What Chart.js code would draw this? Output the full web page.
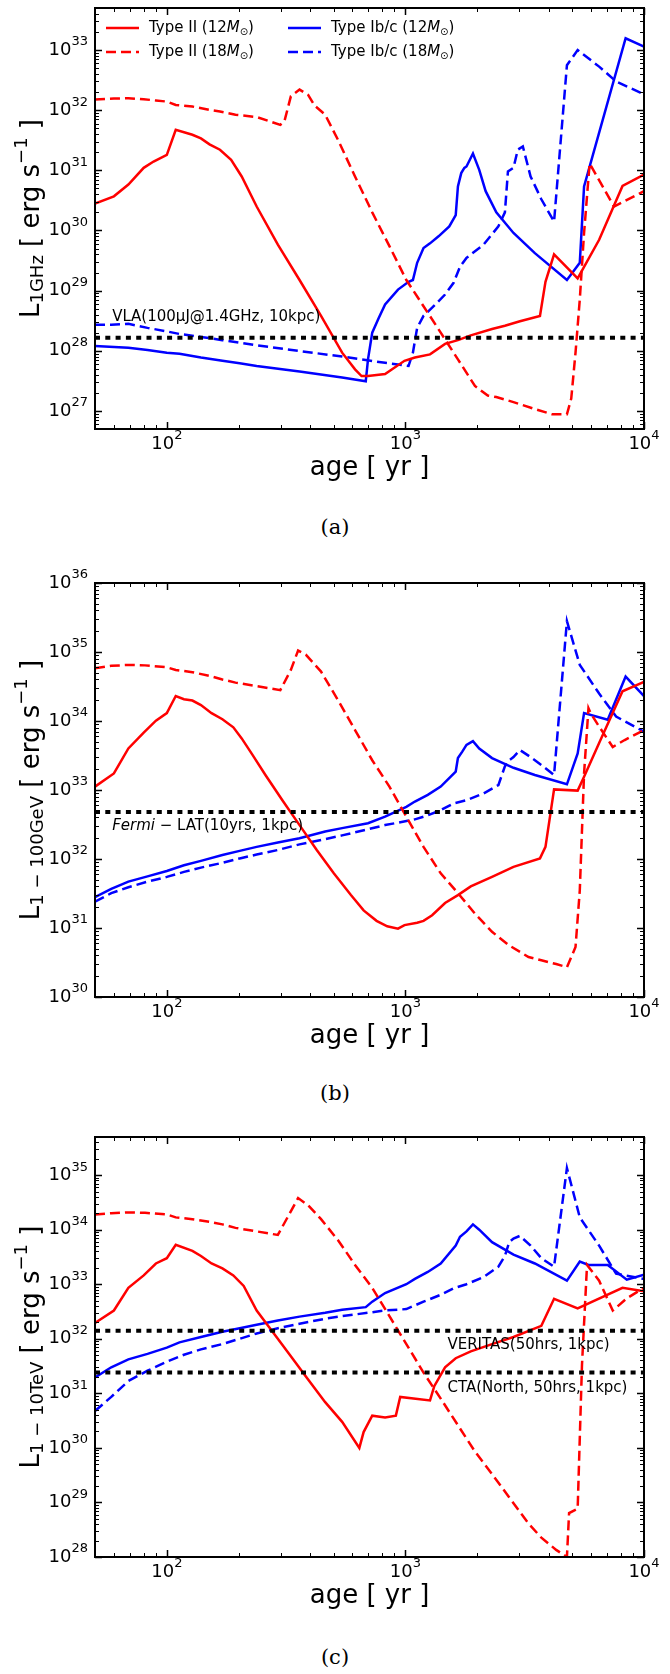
<!DOCTYPE html>
<html>
<head>
<meta charset="utf-8">
<script src="https://cdn.jsdelivr.net/npm/chart.js@4.4.0/dist/chart.umd.min.js"></script>
<style>
    html, body { margin: 0; padding: 0; background: #fff; }
    #page { position: relative; width: 670px; height: 1674px; overflow: hidden; }
    canvas { position: absolute; left: 0; }
    .cap { position: absolute; left: 0; width: 670px; text-align: center;
           font-family: "DejaVu Serif", serif; font-size: 21px; line-height: 24px; }
</style>
</head>
<body>
<div id="page">
    <canvas id="pa" width="670" height="515" style="top:-16px"></canvas>
    <div class="cap" style="top:515px">(a)</div>
    <canvas id="pb" width="670" height="508" style="top:559px"></canvas>
    <div class="cap" style="top:1081px">(b)</div>
    <canvas id="pc" width="670" height="514" style="top:1113px"></canvas>
    <div class="cap" style="top:1645px">(c)</div>
</div>
<script>
var AGE_MIN = 50, AGE_MAX = 1e4;
var xDecades = [2, 3, 4];

// (a) 1 GHz
var yDecadesA = [27, 28, 29, 30, 31, 32, 33];
var ageA_II12 = [50, 60, 69, 80, 88, 100, 109, 128, 139, 151, 167, 186, 206, 238, 292, 360, 443, 543, 615, 655, 697, 822, 991, 1096, 1268, 1466, 1660, 1879, 2307, 2612, 3020, 3664, 3864, 4198, 5272, 6486, 8128, 10000];
var lumA_II12 = [2.8e30, 3.7e30, 5.8e30, 1.1e31, 1.4e31, 1.8e31, 4.7e31, 3.9e31, 3.4e31, 2.7e31, 2.2e31, 1.5e31, 7.9e30, 2.5e30, 5.8e29, 1.5e29, 3.8e28, 9.3e27, 4.9e27, 3.8e27, 3.8e27, 4.1e27, 6.8e27, 7.7e27, 8.7e27, 1.3e28, 1.5e28, 1.8e28, 2.3e28, 2.6e28, 3.1e28, 3.8e28, 1.4e29, 4.0e29, 1.6e29, 7.0e29, 5.5e30, 8.5e30];
var ageA_II18 = [50, 60, 69, 80, 90, 100, 109, 128, 151, 167, 194, 238, 299, 311, 331, 360, 391, 416, 461, 522, 615, 726, 857, 1009, 1191, 1406, 1660, 1956, 2214, 2404, 2838, 3488, 4115, 4753, 4955, 5164, 5381, 5608, 5918, 7485, 10000];
var lumA_II18 = [1.5e32, 1.56e32, 1.58e32, 1.52e32, 1.45e32, 1.39e32, 1.22e32, 1.15e32, 1.01e32, 9.5e31, 8.4e31, 7.7e31, 5.7e31, 6.5e31, 1.7e32, 2.2e32, 1.8e32, 1.2e32, 8.4e31, 3.2e31, 7.9e30, 2.0e30, 5.5e29, 1.5e29, 5.5e28, 2.0e28, 7.2e27, 2.6e27, 1.8e27, 1.7e27, 1.4e27, 1.07e27, 8.8e26, 8.8e26, 1.6e27, 9.3e27, 7.1e28, 9.1e29, 1.3e31, 2.5e30, 4.5e30];
var ageA_Ib12 = [50, 69, 83, 100, 113, 139, 171, 202, 238, 360, 543, 682, 697, 726, 773, 822, 931, 1031, 1075, 1120, 1191, 1268, 1377, 1527, 1625, 1660, 1714, 1766, 1803, 1919, 2039, 2169, 2404, 2838, 3488, 4753, 5381, 5608, 8375, 10000];
var lumA_Ib12 = [1.2e28, 1.12e28, 1.03e28, 9.3e27, 8.9e27, 7.7e27, 6.8e27, 6.2e27, 5.6e27, 4.5e27, 3.6e27, 3.1e27, 7.2e27, 2.0e28, 3.5e28, 5.9e28, 1.04e29, 1.4e29, 1.5e29, 2.9e29, 5.1e29, 6.1e29, 8.0e29, 1.17e30, 1.8e30, 5.4e30, 9.0e30, 1.1e31, 1.16e31, 1.9e31, 1.02e31, 4.5e30, 2.0e30, 9.1e29, 4.2e29, 1.5e29, 2.9e29, 5.4e30, 1.57e33, 1.14e33];
var ageA_Ib18 = [50, 58.5, 69, 83, 100, 113, 139, 171, 202, 238, 360, 543, 682, 822, 1031, 1075, 1120, 1191, 1294, 1466, 1592, 1694, 1803, 2124, 2453, 2612, 2690, 2838, 2958, 3106, 3347, 3713, 4198, 4753, 5272, 6486, 7640, 10000];
var lumA_Ib18 = [2.7e28, 2.7e28, 2.8e28, 2.4e28, 2.1e28, 1.9e28, 1.7e28, 1.5e28, 1.36e28, 1.23e28, 9.9e27, 8.0e27, 7.0e27, 6.3e27, 5.6e27, 9.3e27, 2.4e28, 3.8e28, 5.2e28, 8.6e28, 1.35e29, 2.5e29, 3.5e29, 5.8e29, 1.17e30, 2.0e30, 9.6e30, 1.1e31, 2.2e31, 2.5e31, 7.9e30, 3.3e30, 1.4e30, 5.6e32, 1.0e33, 5.3e32, 3.0e32, 1.84e32];
var vlaLimit = 1.65e28;

// (b) 1-100 GeV
var yDecadesB = [30, 31, 32, 33, 34, 35, 36];
var ageB_II12 = [50, 60, 69, 80, 90, 100, 109, 118, 128, 139, 154, 171, 190, 206, 229, 259, 305, 360, 425, 501, 591, 668, 757, 839, 931, 991, 1120, 1191, 1294, 1466, 1660, 1879, 2307, 2838, 3664, 3864, 4198, 5272, 5608, 6486, 8128, 10000];
var lumB_II12 = [1.12e33, 1.74e33, 4.0e33, 6.8e33, 1.01e34, 1.3e34, 2.3e34, 2.07e34, 1.98e34, 1.7e34, 1.3e34, 1.06e34, 8.1e33, 5.6e33, 3.2e33, 1.65e33, 7.1e32, 3.1e32, 1.35e32, 6.2e31, 3.0e31, 1.8e31, 1.27e31, 1.06e31, 9.8e30, 1.1e31, 1.19e31, 1.27e31, 1.53e31, 2.3e31, 3.0e31, 4.0e31, 5.5e31, 7.7e31, 1.02e32, 1.5e32, 1.02e33, 9.8e32, 1.56e33, 4.8e33, 2.7e34, 3.7e34];
var ageB_II18 = [50, 58.5, 69, 81, 100, 109, 128, 151, 171, 194, 238, 299, 331, 355, 383, 443, 522, 615, 726, 857, 1009, 1191, 1406, 1660, 1956, 2307, 2720, 3281, 3713, 4285, 4753, 5164, 5381, 5608, 5851, 5971, 6486, 7396, 8299, 10000];
var lumB_II18 = [5.8e34, 6.3e34, 6.5e34, 6.4e34, 6.0e34, 5.5e34, 5.1e34, 4.5e34, 4.0e34, 3.6e34, 3.2e34, 2.8e34, 5.5e34, 1.05e35, 9.1e34, 5.2e34, 2.0e34, 7.4e33, 2.7e33, 1.12e33, 4.1e32, 1.5e32, 6.2e31, 3.2e31, 1.62e31, 8.8e30, 5.6e30, 3.8e30, 3.4e30, 3.0e30, 2.7e30, 5.3e30, 3.5e31, 1.74e33, 1.53e34, 1.3e34, 8.3e33, 4.2e33, 5.3e33, 7.4e33];
var ageB_Ib12 = [50, 58.5, 69, 83, 100, 118, 139, 171, 202, 238, 292, 360, 461, 543, 697, 822, 1009, 1096, 1241, 1406, 1625, 1660, 1731, 1803, 1919, 2039, 2307, 2838, 3488, 4753, 5272, 5608, 7047, 8375, 10000];
var lumB_Ib12 = [2.8e31, 3.7e31, 4.7e31, 5.6e31, 6.7e31, 8.1e31, 9.4e31, 1.14e32, 1.31e32, 1.5e32, 1.74e32, 2.0e32, 2.5e32, 2.8e32, 3.3e32, 4.1e32, 5.7e32, 6.8e32, 8.5e32, 1.12e33, 1.85e33, 2.9e33, 3.6e33, 4.5e33, 5.1e33, 4.0e33, 2.9e33, 2.1e33, 1.65e33, 1.21e33, 3.4e33, 1.3e34, 1.04e34, 4.4e34, 2.3e34];
var ageB_Ib18 = [50, 58.5, 69, 83, 100, 118, 139, 171, 202, 238, 292, 360, 461, 543, 697, 822, 1096, 1241, 1406, 1592, 1803, 2124, 2453, 2612, 2723, 2838, 3020, 3347, 3713, 4198, 4753, 5381, 6486, 7640, 10000];
var lumB_Ib18 = [2.4e31, 3.2e31, 3.9e31, 4.7e31, 5.5e31, 6.5e31, 7.5e31, 8.8e31, 1.02e32, 1.16e32, 1.35e32, 1.63e32, 1.94e32, 2.2e32, 2.7e32, 3.1e32, 3.75e32, 4.3e32, 5.1e32, 6.4e32, 7.1e32, 8.9e32, 1.18e33, 2.2e33, 2.7e33, 3.0e33, 3.8e33, 3.0e33, 2.3e33, 1.65e33, 2.8e35, 6.5e34, 2.5e34, 1.16e34, 7.0e33];
var fermiLimit = 4.8e32;

// (c) 1-10 TeV
var yDecadesC = [28, 29, 30, 31, 32, 33, 34, 35];
var ageC_II12 = [50, 60, 69, 80, 90, 100, 109, 128, 139, 154, 171, 190, 210, 238, 281, 331, 391, 461, 543, 641, 668, 726, 822, 912, 951, 1268, 1321, 1466, 1625, 1879, 2307, 2838, 3713, 4198, 5272, 8128, 10000];
var lumC_II12 = [1.95e32, 3.3e32, 8.6e32, 1.45e33, 2.4e33, 3.0e33, 5.3e33, 4.1e33, 3.3e33, 2.4e33, 1.95e33, 1.45e33, 9.3e32, 3.3e32, 1.25e32, 4.8e31, 1.8e31, 6.9e30, 3.0e30, 1.0e30, 1.95e30, 3.9e30, 3.6e30, 3.9e30, 8.6e30, 7.4e30, 1.35e31, 3.0e31, 4.4e31, 5.9e31, 8.0e31, 1.08e32, 1.73e32, 5.4e32, 3.6e32, 8.6e32, 7.4e32];
var ageC_II18 = [50, 58.5, 69, 81, 100, 109, 128, 151, 171, 194, 238, 292, 355, 391, 443, 522, 615, 726, 857, 1009, 1191, 1406, 1660, 1956, 2307, 2720, 3281, 3713, 4285, 4753, 4853, 5272, 5496, 5771, 6486, 7396, 8469, 10000];
var lumC_II18 = [1.9e34, 2.0e34, 2.07e34, 2.04e34, 1.9e34, 1.68e34, 1.56e34, 1.39e34, 1.25e34, 1.08e34, 9.3e33, 8.0e33, 3.8e34, 2.8e34, 1.56e34, 6.4e33, 2.26e33, 8.6e32, 2.6e32, 8.0e31, 2.4e31, 8.0e30, 2.6e30, 8.6e29, 3.3e29, 1.25e29, 4.1e28, 2.26e28, 1.35e28, 1.0e28, 6.4e28, 7.7e28, 3.3e31, 2.26e33, 1.16e33, 3.3e32, 5.5e32, 8.6e32];
var ageC_Ib12 = [50, 58.5, 69, 83, 100, 113, 139, 171, 202, 238, 292, 360, 461, 543, 682, 726, 822, 1009, 1096, 1241, 1406, 1625, 1694, 1803, 1919, 2039, 2307, 2838, 3488, 4753, 5381, 5851, 7047, 8469, 10000];
var lumC_Ib12 = [1.95e31, 3.0e31, 4.2e31, 5.3e31, 6.9e31, 8.6e31, 1.08e32, 1.35e32, 1.56e32, 1.81e32, 2.16e32, 2.55e32, 3.0e32, 3.4e32, 3.8e32, 4.8e32, 6.9e32, 1.0e33, 1.25e33, 1.68e33, 2.4e33, 5.1e33, 7.4e33, 9.3e33, 1.25e34, 1.0e34, 5.9e33, 3.5e33, 2.4e33, 1.16e33, 2.6e33, 2.26e33, 2.26e33, 1.21e33, 1.49e33];
var ageC_Ib18 = [50, 58.5, 69, 83, 100, 118, 139, 171, 202, 238, 292, 360, 461, 543, 697, 822, 1009, 1191, 1406, 1592, 1803, 2124, 2453, 2612, 2723, 2838, 3020, 3347, 3713, 4198, 4753, 5381, 6486, 7640, 10000];
var lumC_Ib18 = [4.75e30, 8.6e30, 1.68e31, 2.6e31, 3.8e31, 5.1e31, 6.4e31, 8.0e31, 1.0e32, 1.25e32, 1.56e32, 1.89e32, 2.33e32, 2.6e32, 3.0e32, 3.3e32, 3.5e32, 4.8e32, 6.4e32, 8.4e32, 1.0e33, 1.35e33, 2.1e33, 3.3e33, 5.9e33, 6.9e33, 7.7e33, 5.1e33, 3.0e33, 2.1e33, 1.35e35, 1.68e34, 5.1e33, 1.56e33, 1.25e33];
var veritasLimit = 1.4e32;
var ctaLimit = 2.4e31;

var RED = "#ff0000", BLUE = "#0000ff";
var FONT = '"DejaVu Sans", sans-serif';

function pts(ages, lums) {
    return ages.map(function (a, i) { return { x: a, y: lums[i] }; });
}

function curve(ages, lums, color, dashed) {
    return {
        data: pts(ages, lums), borderColor: color, borderWidth: 2.5,
        borderDash: dashed ? [10, 5] : [], pointRadius: 0, tension: 0
    };
}

function limitLine(v) {
    return {
        data: [{ x: AGE_MIN, y: v }, { x: AGE_MAX, y: v }], borderColor: "#000",
        borderWidth: 4, borderDash: [5, 5.3], borderCapStyle: "butt", pointRadius: 0
    };
}

// parts: [text, size, dy, italic]
function partsWidth(ctx, parts) {
    var w = 0;
    parts.forEach(function (p) {
        ctx.font = (p[3] ? "italic " : "") + p[1] + "px " + FONT;
        w += ctx.measureText(p[0]).width;
    });
    return w;
}

function drawParts(ctx, parts, x, y) {
    var cx = x;
    parts.forEach(function (p) {
        ctx.font = (p[3] ? "italic " : "") + p[1] + "px " + FONT;
        ctx.fillText(p[0], cx, y + (p[2] || 0));
        cx += ctx.measureText(p[0]).width;
    });
}

function pow10(k) {
    return [["10", 18, 0], [String(k), 13, -8]];
}

function logTicks(min, max) {
    var out = [];
    for (var k = Math.floor(Math.log10(min)); k <= Math.ceil(Math.log10(max)); k++) {
        for (var m = 1; m <= 9; m++) {
            var v = m * Math.pow(10, k);
            if (v >= min * 0.9999 && v <= max * 1.0001) out.push([v, m === 1]);
        }
    }
    return out;
}

function axesPlugin(p) {
    return {
        id: "mplAxes",
        afterDatasetsDraw: function (chart) {
            var ctx = chart.ctx, a = chart.chartArea;
            var xs = chart.scales.x, ys = chart.scales.y;
            ctx.save();
            ctx.strokeStyle = "#000";
            ctx.fillStyle = "#000";

            logTicks(AGE_MIN, AGE_MAX).forEach(function (t) {
                var px = Math.round(xs.getPixelForValue(t[0])) + 0.5;
                var len = t[1] ? 7 : 4;
                ctx.lineWidth = t[1] ? 1.5 : 1;
                ctx.beginPath();
                ctx.moveTo(px, a.bottom); ctx.lineTo(px, a.bottom - len);
                ctx.moveTo(px, a.top); ctx.lineTo(px, a.top + len);
                ctx.stroke();
            });
            logTicks(p.ymin, p.ymax).forEach(function (t) {
                var py = Math.round(ys.getPixelForValue(t[0])) + 0.5;
                var len = t[1] ? 7 : 4;
                ctx.lineWidth = t[1] ? 1.5 : 1;
                ctx.beginPath();
                ctx.moveTo(a.left, py); ctx.lineTo(a.left + len, py);
                ctx.moveTo(a.right, py); ctx.lineTo(a.right - len, py);
                ctx.stroke();
            });
            ctx.lineWidth = 2;
            ctx.strokeRect(a.left, a.top, a.right - a.left, a.bottom - a.top);

            ctx.textAlign = "left";
            ctx.textBaseline = "middle";
            p.yDecades.forEach(function (k) {
                var parts = pow10(k);
                var py = ys.getPixelForValue(Math.pow(10, k));
                drawParts(ctx, parts, a.left - 7 - partsWidth(ctx, parts), py);
            });
            xDecades.forEach(function (k) {
                var parts = pow10(k);
                var px = xs.getPixelForValue(Math.pow(10, k));
                drawParts(ctx, parts, px - partsWidth(ctx, parts) / 2, a.bottom + 15);
            });

            // axis titles
            var xt = [["age [ yr ]", 26, 0]];
            drawParts(ctx, xt, (a.left + a.right) / 2 - partsWidth(ctx, xt) / 2, a.bottom + 39);
            ctx.save();
            ctx.translate(32, (a.top + a.bottom) / 2);
            ctx.rotate(-Math.PI / 2);
            drawParts(ctx, p.yTitle, -partsWidth(ctx, p.yTitle) / 2, 0);
            ctx.restore();

            // annotations
            p.notes.forEach(function (n) {
                drawParts(ctx, n.parts, xs.getPixelForValue(n.x), ys.getPixelForValue(n.y));
            });

            if (p.legend) {
                var top = a.top;
                var rows = [
                    [RED, false, 106, 20, "Type II (12"], [RED, true, 106, 44, "Type II (18"],
                    [BLUE, false, 288, 20, "Type Ib/c (12"], [BLUE, true, 288, 44, "Type Ib/c (18"]
                ];
                rows.forEach(function (r) {
                    var y = top + r[3];
                    ctx.strokeStyle = r[0];
                    ctx.lineWidth = 2.5;
                    ctx.setLineDash(r[1] ? [10, 5] : []);
                    ctx.beginPath();
                    ctx.moveTo(r[2], y); ctx.lineTo(r[2] + 33, y);
                    ctx.stroke();
                    ctx.setLineDash([]);
                    drawParts(ctx, [[r[4], 15, 0], ["M", 15, 0, true], ["\u2299", 10, 4], [")", 15, 0]], r[2] + 43, y);
                });
            }
            ctx.restore();
        }
    };
}

function makePanel(id, p, datasets) {
    return new Chart(document.getElementById(id), {
        type: "line",
        data: { datasets: datasets },
        options: {
            responsive: false,
            animation: false,
            events: [],
            layout: { padding: { left: 95, right: 26, top: 24, bottom: 70 } },
            plugins: { legend: { display: false }, tooltip: { enabled: false } },
            scales: {
                x: { type: "logarithmic", min: AGE_MIN, max: AGE_MAX, display: false },
                y: { type: "logarithmic", min: p.ymin, max: p.ymax, display: false }
            }
        },
        plugins: [axesPlugin(p)]
    });
}

makePanel("pa", {
    ymin: 5e26, ymax: 5e33, yDecades: yDecadesA, legend: true,
    yTitle: [["L", 26, 0], ["1GHz", 18, 6], [" [ erg s", 26, 0], ["\u22121", 18, -10], [" ]", 26, 0]],
    notes: [{ x: 59, y: 3.6e28, parts: [["VLA(100\u03bcJ@1.4GHz, 10kpc)", 15, 0]] }]
}, [
    limitLine(vlaLimit),
    curve(ageA_II12, lumA_II12, RED, false),
    curve(ageA_II18, lumA_II18, RED, true),
    curve(ageA_Ib12, lumA_Ib12, BLUE, false),
    curve(ageA_Ib18, lumA_Ib18, BLUE, true)
]);

makePanel("pb", {
    ymin: 1e30, ymax: 1e36, yDecades: yDecadesB, legend: false,
    yTitle: [["L", 26, 0], ["1 \u2212 100GeV", 18, 6], [" [ erg s", 26, 0], ["\u22121", 18, -10], [" ]", 26, 0]],
    notes: [{ x: 59, y: 3.0e32, parts: [["Fermi", 15, 0, true], [" \u2212 LAT(10yrs, 1kpc)", 15, 0]] }]
}, [
    limitLine(fermiLimit),
    curve(ageB_II12, lumB_II12, RED, false),
    curve(ageB_II18, lumB_II18, RED, true),
    curve(ageB_Ib12, lumB_Ib12, BLUE, false),
    curve(ageB_Ib18, lumB_Ib18, BLUE, true)
]);

makePanel("pc", {
    ymin: 1e28, ymax: 5e35, yDecades: yDecadesC, legend: false,
    yTitle: [["L", 26, 0], ["1 \u2212 10TeV", 18, 6], [" [ erg s", 26, 0], ["\u22121", 18, -10], [" ]", 26, 0]],
    notes: [
        { x: 1500, y: 7.7e31, parts: [["VERITAS(50hrs, 1kpc)", 15, 0]] },
        { x: 1500, y: 1.25e31, parts: [["CTA(North, 50hrs, 1kpc)", 15, 0]] }
    ]
}, [
    limitLine(veritasLimit),
    limitLine(ctaLimit),
    curve(ageC_II12, lumC_II12, RED, false),
    curve(ageC_II18, lumC_II18, RED, true),
    curve(ageC_Ib12, lumC_Ib12, BLUE, false),
    curve(ageC_Ib18, lumC_Ib18, BLUE, true)
]);
</script>
</body>
</html>
